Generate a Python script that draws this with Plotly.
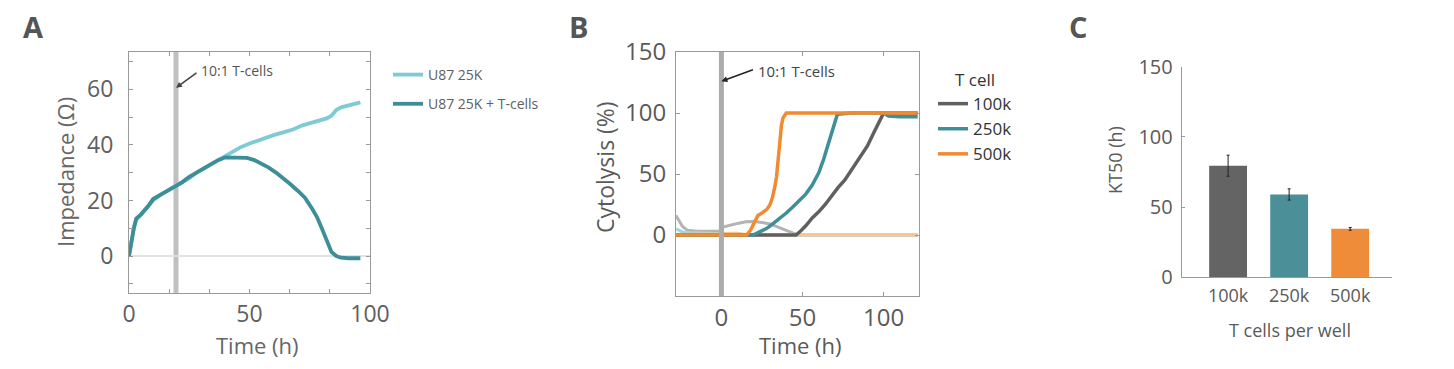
import plotly.graph_objects as go

OFF = 8                      # default page body margin
W, H = 1454 - 2 * OFF, 369 - 2 * OFF
FONT = "Open Sans"
TXT = "#5a5a5a"

# ---------------- Panel A data ----------------
a_t_ctrl = [0, 1, 2, 3, 5, 8, 10, 13, 16, 19.5, 22, 25, 28, 31, 34, 37, 40, 43, 46, 50,
            53, 56, 60, 64, 68, 72, 76, 80, 82, 84, 86, 88, 91, 94, 96]
a_y_ctrl = [0, 6, 10, 13, 15, 18, 20, 22, 23.5, 25, 26.5, 28, 30, 31.5, 33, 34.5, 36, 37.5, 39, 40.5,
            41.5, 42.5, 43.5, 44.5, 45.5, 47, 48, 49, 49.5, 50.5, 52.5, 53.5, 54.3, 54.8, 55.3]
a_t_tc = [0, 1, 2, 3, 5, 8, 10, 13, 16, 19.5, 22, 25, 28, 31, 34, 37, 40, 43, 46, 49, 52, 55,
          58, 61, 64, 67, 70, 73, 76, 78, 80, 82, 84, 86, 88, 91, 94, 96]
a_y_tc = [0, 6, 10, 13.5, 15, 18, 20.5, 22, 23.5, 25, 26.5, 28.5, 30, 31.5, 33, 34.5, 35.5, 35.5,
          35.5, 35.3, 34.5, 33.3, 31.8, 30, 28, 25.8, 23.5, 21, 17, 14, 10, 5.5, 1.5, 0, -0.6, -0.8, -0.8, -0.8]
a_names = ["U87 25K", "U87 25K + T-cells"]
a_tcell_time = 19.5

# ---------------- Panel B data ----------------
b_t_ghost_gray = [-28, -26, -24, -21, -15, -5, 0, 1, 5, 10, 15, 20, 25, 30, 35, 40, 44, 47, 121]
b_y_ghost_gray = [16, 11, 7, 4, 3, 3, 3, 6.5, 8, 9.5, 10.8, 11, 10.3, 9, 6.5, 4, 2, 0, 0]
b_t_ghost_teal = [-28, -26, -24, -20, -10, 0, 10, 20, 121]
b_y_ghost_teal = [5, 3.5, 2.5, 2, 1.5, 1, 0.5, 0, 0]
b_t_ghost_orange = [-28, -10, 0, 5, 10, 15, 20, 121]
b_y_ghost_orange = [0.5, 0.5, 1, 1.5, 1.5, 0.5, 0, 0]

b_t_100k = [-28, 0, 20, 40, 46, 49, 52, 56, 60, 64, 68, 72, 76, 79, 82, 86, 90, 94, 97, 100, 110, 121]
b_y_100k = [0, 0, 0, 0, 0, 3.5, 7.5, 14, 19, 25, 32.5, 39, 45, 51, 56.5, 64, 73, 84, 92, 100, 100, 100]
b_t_250k = [-28, 0, 10, 19.5, 22, 25, 28, 32, 36, 40, 44, 48, 52, 56, 60, 63, 66, 69, 71.5, 80, 90,
            100, 103, 110, 121]
b_y_250k = [0, 0, 0, 0, 1.5, 3.5, 5.5, 9.5, 13.5, 18, 23, 28, 33.5, 41, 51, 62, 75, 88, 99, 100, 100,
            100, 97.5, 97, 97]
b_t_500k = [-28, -20, -10, 0, 5, 10, 15.5, 18, 20, 22.5, 25, 28, 30, 31.5, 33, 34, 35, 36, 37, 38,
            40, 60, 80, 100, 121]
b_y_500k = [0, 0, 0, 0, 0, 0, 0, 4, 9, 16, 18, 21, 25, 31, 40, 48, 62, 78, 90, 96, 100, 100, 100, 100, 100]
b_names = ["100k", "250k", "500k"]
b_tcell_time = 0

# ---------------- Panel C data ----------------
c_cats = ["100k", "250k", "500k"]
c_kt50 = [79.5, 59, 34.5]
c_err = [7.5, 4, 1]

# colours
COL_A_CTRL = "#7ecbd5"
COL_A_TC = "#3c8e98"
COL_B = ["#606060", "#3f8f98", "#f28a30"]
COL_B_GHOST = ["#b3b3b3", "#9fd6de", "#f6c795"]
COL_C = ["#646464", "#4b9099", "#ee8c3a"]

fig = go.Figure()

# Panel A traces
fig.add_trace(go.Scatter(x=a_t_ctrl, y=a_y_ctrl, mode="lines", name=a_names[0],
                         line=dict(color=COL_A_CTRL, width=3.8), xaxis="x", yaxis="y",
                         legend="legend", legendgroup="a1"))
fig.add_trace(go.Scatter(x=a_t_tc, y=a_y_tc, mode="lines", name=a_names[1],
                         line=dict(color=COL_A_TC, width=3.8), xaxis="x", yaxis="y",
                         legend="legend", legendgroup="a2"))

# Panel B ghost traces
for tt, yy, c in [(b_t_ghost_gray, b_y_ghost_gray, COL_B_GHOST[0]),
                  (b_t_ghost_teal, b_y_ghost_teal, COL_B_GHOST[1]),
                  (b_t_ghost_orange, b_y_ghost_orange, COL_B_GHOST[2])]:
    fig.add_trace(go.Scatter(x=tt, y=yy, mode="lines", showlegend=False,
                             line=dict(color=c, width=3), xaxis="x2", yaxis="y2"))
for tt, yy, c, n in [(b_t_100k, b_y_100k, COL_B[0], b_names[0]),
                     (b_t_250k, b_y_250k, COL_B[1], b_names[1]),
                     (b_t_500k, b_y_500k, COL_B[2], b_names[2])]:
    fig.add_trace(go.Scatter(x=tt, y=yy, mode="lines", name=n,
                             line=dict(color=c, width=3.5), xaxis="x2", yaxis="y2",
                             legend="legend2"))

# Panel C bars
fig.add_trace(go.Bar(x=c_cats, y=c_kt50, marker=dict(color=COL_C, line=dict(width=0)),
                     width=0.62, showlegend=False, xaxis="x3", yaxis="y3",
                     error_y=dict(type="data", array=c_err, color="#222", thickness=1, width=1.5)))

def px_x(p):
    return (p - OFF) / W

def px_y(p):
    return 1 - (p - OFF) / H

frame = "#9a9a9a"
common = dict(automargin=False, showgrid=False, zeroline=False, showline=True, linecolor=frame)
fig.update_layout(
    width=W, height=H, autosize=False,
    margin=dict(l=0, r=0, t=0, b=0, pad=0, autoexpand=False),
    paper_bgcolor="white", plot_bgcolor="white",
    font=dict(family=FONT, color=TXT),
    xaxis=dict(domain=[px_x(129), px_x(370)], range=[0, 100], tickvals=[0, 50, 100], anchor="y",
               ticks="inside", ticklen=4, tickcolor=frame, mirror="ticks",
               minor=dict(dtick=50 / 3, tick0=0, ticks="inside", ticklen=4, tickcolor=frame),
               tickfont=dict(size=23, color="#606060"), ticklabelstandoff=0, **common),
    yaxis=dict(domain=[px_y(293), px_y(52)], range=[-13.3, 73.4], tickvals=[0, 20, 40, 60], anchor="x",
               ticks="inside", ticklen=4, tickcolor=frame, mirror="ticks",
               minor=dict(dtick=10, tick0=0, ticks="inside", ticklen=4, tickcolor=frame),
               tickfont=dict(size=23, color="#606060"), ticklabelstandoff=10,
               **{k: v for k, v in common.items() if k != "zeroline"},
               zeroline=True, zerolinecolor="#e2e2e2", zerolinewidth=1.5),
    xaxis2=dict(domain=[px_x(676), px_x(919.3)], range=[-28, 122], tickvals=[0, 50, 100], anchor="y2",
                ticks="inside", ticklen=4, tickcolor=frame, mirror="ticks",
                tickfont=dict(size=24, color=TXT), ticklabelstandoff=0, **common),
    yaxis2=dict(domain=[px_y(296), px_y(52)], range=[-50, 150], tickvals=[0, 50, 100, 150], anchor="x2",
                ticks="inside", ticklen=4, tickcolor=frame, mirror="ticks",
                tickfont=dict(size=24, color=TXT), ticklabelstandoff=4, **common),
    xaxis3=dict(domain=[px_x(1181.7), px_x(1391.7)], range=[-0.76, 2.68], type="category", anchor="y3",
                ticks="", tickfont=dict(size=18, color=TXT), ticklabelstandoff=2, **common),
    yaxis3=dict(domain=[px_y(277.3), px_y(66.7)], range=[0, 150], tickvals=[0, 50, 100, 150], anchor="x3",
                ticks="inside", ticklen=3, tickcolor=frame,
                tickfont=dict(size=20, color=TXT), ticklabelstandoff=4, **common),
    legend=dict(x=px_x(388), y=px_y(59), xanchor="left", yanchor="top",
                font=dict(size=14, color="#606060"), bgcolor="rgba(0,0,0,0)",
                tracegroupgap=8, itemwidth=30),
    legend2=dict(x=px_x(933), y=px_y(64), xanchor="left", yanchor="top",
                 title=dict(text="T cell", font=dict(size=17, color="#333"), side="top center"),
                 font=dict(size=17, color="#333"), bgcolor="rgba(0,0,0,0)", itemwidth=30),
    showlegend=True,
)

# vertical T-cell addition lines
fig.add_shape(type="line", xref="x", yref="paper", x0=a_tcell_time, x1=a_tcell_time,
              y0=px_y(293), y1=px_y(52), line=dict(color="#c0c0c0", width=5), layer="below")
fig.add_shape(type="line", xref="x2", yref="paper", x0=b_tcell_time, x1=b_tcell_time,
              y0=px_y(296), y1=px_y(52), line=dict(color="#acacac", width=5), layer="above")

ann = []
# panel letters
for letter, xp in [("A", 33), ("B", 578), ("C", 1078)]:
    ann.append(dict(text="<b>%s</b>" % letter, x=px_x(xp), y=px_y(26), xref="paper", yref="paper",
                    showarrow=False, font=dict(size=29, color="#555"), xanchor="center", yanchor="middle"))
# axis titles
ann += [
    dict(text="Impedance (Ω)", x=px_x(65), y=px_y(172), xref="paper", yref="paper", textangle=-90,
         showarrow=False, font=dict(size=22, color="#666"), xanchor="center", yanchor="middle"),
    dict(text="Time (h)", x=px_x(257), y=px_y(345), xref="paper", yref="paper", borderpad=0,
         showarrow=False, font=dict(size=22, color="#666"), xanchor="center", yanchor="middle"),
    dict(text="Cytolysis (%)", x=px_x(605), y=px_y(167), xref="paper", yref="paper", textangle=-90,
         showarrow=False, font=dict(size=23, color=TXT), xanchor="center", yanchor="middle"),
    dict(text="Time (h)", x=px_x(800), y=px_y(345), xref="paper", yref="paper", borderpad=0,
         showarrow=False, font=dict(size=22, color=TXT), xanchor="center", yanchor="middle"),
    dict(text="KT50 (h)", x=px_x(1115), y=px_y(160), xref="paper", yref="paper", textangle=-90,
         showarrow=False, font=dict(size=18, color=TXT), xanchor="center", yanchor="middle"),
    dict(text="T cells per well", x=px_x(1290), y=px_y(330), xref="paper", yref="paper",
         showarrow=False, font=dict(size=18, color=TXT), xanchor="center", yanchor="middle"),
]
# "10:1 T-cells" labels with arrows
ann += [
    dict(text="10:1 T-cells", x=px_x(199), y=px_y(71), xref="paper", yref="paper", showarrow=False,
         font=dict(size=14, color="#555"), xanchor="left", yanchor="middle"),
    dict(text="", x=a_tcell_time, y=60.5, xref="x", yref="y", showarrow=True, arrowhead=2,
         arrowsize=0.8, arrowwidth=1.5, arrowcolor="#444", ax=22, ay=-16, axref="pixel", ayref="pixel"),
    dict(text="10:1 T-cells", x=px_x(756), y=px_y(71), xref="paper", yref="paper", showarrow=False,
         font=dict(size=15, color="#444"), xanchor="left", yanchor="middle"),
    dict(text="", x=b_tcell_time, y=126, xref="x2", yref="y2", showarrow=True, arrowhead=2,
         arrowsize=0.8, arrowwidth=1.5, arrowcolor="#222", ax=33, ay=-12, axref="pixel", ayref="pixel"),
]
fig.update_layout(annotations=ann)

fig.write_html("out.html")
